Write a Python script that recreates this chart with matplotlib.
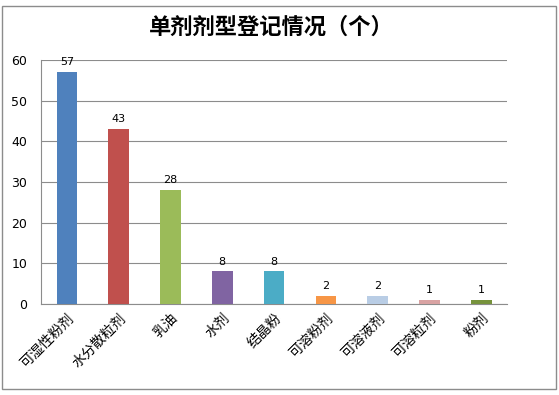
import numpy as np
import matplotlib
matplotlib.use('Agg')
from matplotlib import pyplot as plt
from matplotlib.patches import Rectangle

plt.rcParams['font.family'] = ['Noto Sans CJK SC', 'DejaVu Sans']

categories = ['可湿性粉剂', '水分散粒剂', '乳油', '水剂', '结晶粉', '可溶粉剂', '可溶液剂', '可溶粒剂', '粉剂']
counts = [57, 43, 28, 8, 8, 2, 2, 1, 1]
colors = ['#4F81BD', '#C0504D', '#9BBB59', '#8064A2', '#4BACC6',
          '#F79646', '#B9CDE5', '#D9A3A3', '#77933C']

fig = plt.figure(figsize=(5.59, 3.95), dpi=100)
ax = fig.add_axes([0.0733, 0.2304, 0.834, 0.6176])

x = np.arange(len(categories))
bars = ax.bar(x, counts, width=0.4, color=colors, zorder=3)
for b, v in zip(bars, counts):
    ax.text(b.get_x() + b.get_width() / 2, v + 1.2, str(v),
            ha='center', va='bottom', fontsize=8, family='DejaVu Sans')

ax.set_xlim(-0.5, len(categories) - 0.5)
ax.set_ylim(0, 60)
ax.set_yticks(range(0, 61, 10))
ax.yaxis.grid(True, color='#8C8C8C', linewidth=0.8, zorder=0)
ax.tick_params(axis='y', length=0, labelsize=9, pad=10)
ax.tick_params(axis='x', length=0, labelsize=10, pad=5)
for lab in ax.get_yticklabels():
    lab.set_family('DejaVu Sans')
ax.set_xticks(x)
ax.set_xticklabels(categories, rotation=45, ha='right', rotation_mode='anchor')

for s in ['top', 'right']:
    ax.spines[s].set_visible(False)
ax.spines['left'].set_color('#8C8C8C')
ax.spines['bottom'].set_color('#8C8C8C')

fig.text(0.485, 0.93, '单剂剂型登记情况（个）', ha='center', va='center',
         fontsize=16, fontweight='bold')

fig.patches.append(Rectangle((0.004, 0.015), 0.99, 0.97, transform=fig.transFigure,
                             fill=False, edgecolor='#8C8C8C', linewidth=1))

fig.savefig('out.png', dpi=100)
